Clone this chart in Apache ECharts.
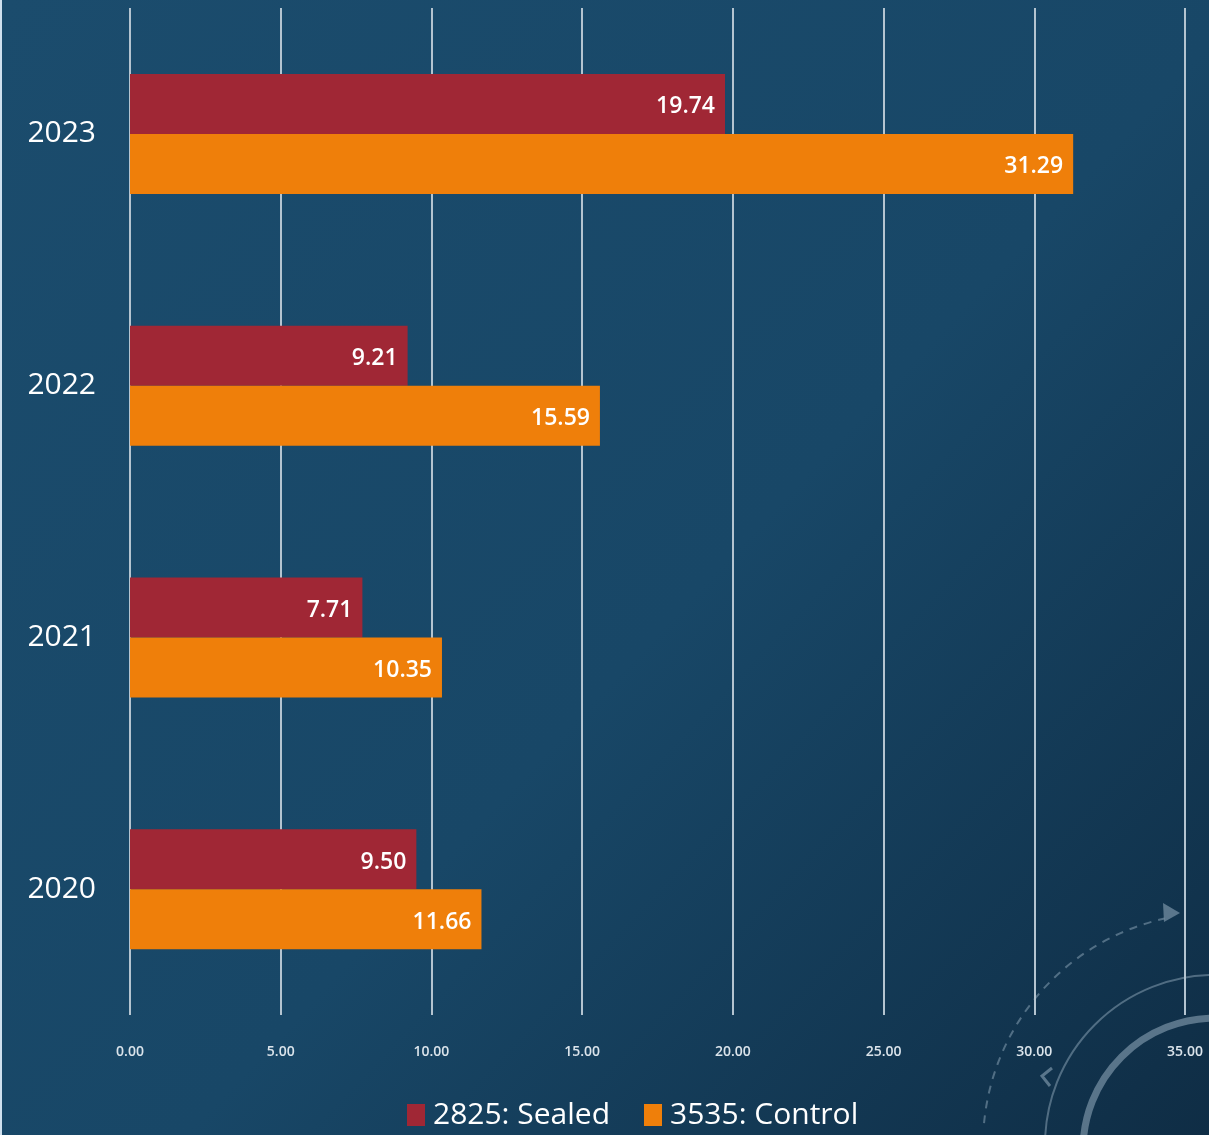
<!DOCTYPE html>
<html>
<head>
<meta charset="utf-8">
<style>
  html, body { margin: 0; padding: 0; background: #173f5c; }
  #chart { width: 1209px; height: 1135px; }
</style>
<script src="https://cdn.jsdelivr.net/npm/echarts@6/dist/echarts.min.js"></script>
</head>
<body>
<div id="chart"></div>
<script>
// Years shown on the category axis (bottom to top)
const years = ['2020', '2021', '2022', '2023'];
// Series values per year
const sealed = [9.50, 7.71, 9.21, 19.74];
const control = [11.66, 10.35, 15.59, 31.29];
const seriesNames = ['2825: Sealed', '3535: Control'];
// Value-axis range
const axisMax = 35;
const axisStep = 5;

const FONT = '"Open Sans", "Noto Sans", sans-serif';
const chart = echarts.init(document.getElementById('chart'), null, { renderer: 'canvas' });

const valueLabel = {
  show: true,
  position: 'insideRight',
  distance: 10,
  offset: [0, 3],
  color: '#ffffff',
  fontFamily: FONT,
  fontSize: 23,
  fontWeight: 600,
  formatter: p => p.value.toFixed(2)
};

chart.setOption({
  backgroundColor: {
    type: 'linear', x: 0, y: 0, x2: 1, y2: 1,
    colorStops: [
      { offset: 0, color: '#1b4c6d' },
      { offset: 0.55, color: '#184767' },
      { offset: 1, color: '#0f2d45' }
    ]
  },
  animation: false,
  grid: { left: 130, right: 24, top: 8, bottom: 120, containLabel: false },
  legend: {
    bottom: 0,
    left: 402,
    itemWidth: 18,
    itemHeight: 22,
    itemGap: 34,
    icon: 'rect',
    textStyle: { color: '#ffffff', fontFamily: FONT, fontSize: 30, padding: [0, 0, 0, 3] },
    data: seriesNames
  },
  xAxis: {
    type: 'value',
    min: 0,
    max: axisMax,
    interval: axisStep,
    axisLine: { show: false },
    axisTick: { show: false },
    axisLabel: {
      color: '#dbe4eb',
      fontFamily: FONT,
      fontSize: 14,
      fontWeight: 600,
      margin: 30,
      formatter: v => v.toFixed(2)
    },
    splitLine: { show: true, lineStyle: { color: '#b4c4d0', width: 2 } }
  },
  yAxis: {
    type: 'category',
    data: years,
    axisLine: { show: false },
    axisTick: { show: false },
    axisLabel: { color: '#ffffff', fontFamily: FONT, fontSize: 30, margin: 34 }
  },
  series: [
    {
      name: seriesNames[0],
      type: 'bar',
      data: sealed,
      barWidth: 60,
      barGap: '0%',
      itemStyle: { color: '#a02735' },
      label: valueLabel
    },
    {
      name: seriesNames[1],
      type: 'bar',
      data: control,
      barWidth: 60,
      barGap: '0%',
      itemStyle: { color: '#ef7f0a' },
      label: valueLabel
    }
  ],
  graphic: [
    // thin light strip along the left edge
    { type: 'rect', left: 0, top: 0, shape: { width: 2, height: 1135 }, style: { fill: '#cfe0ee' }, z: 10 },
    // decorative rings in the lower-right corner
    { type: 'arc', shape: { cx: 1215, cy: 1145, r: 170, startAngle: Math.PI, endAngle: Math.PI * 2 }, style: { stroke: 'rgba(200,220,235,0.35)', lineWidth: 2, fill: null }, silent: true, z: -1 },
    { type: 'arc', shape: { cx: 1215, cy: 1150, r: 132, startAngle: Math.PI, endAngle: Math.PI * 2 }, style: { stroke: 'rgba(200,220,235,0.4)', lineWidth: 7, fill: null }, silent: true, z: -1 },
    { type: 'arc', shape: { cx: 1215, cy: 1145, r: 232, startAngle: Math.PI * 1.03, endAngle: Math.PI * 1.43 }, style: { stroke: 'rgba(200,220,235,0.35)', lineWidth: 2, lineDash: [8, 7], fill: null }, silent: true, z: -1 },
    { type: 'polygon', shape: { points: [[1163, 903], [1180, 913], [1164, 922]] }, style: { fill: 'rgba(200,220,235,0.4)' }, silent: true, z: -1 },
    { type: 'polyline', shape: { points: [[1052, 1068], [1042, 1076], [1050, 1086]] }, style: { stroke: 'rgba(200,220,235,0.4)', lineWidth: 3, fill: null }, silent: true, z: -1 }
  ]
});
</script>
</body>
</html>
